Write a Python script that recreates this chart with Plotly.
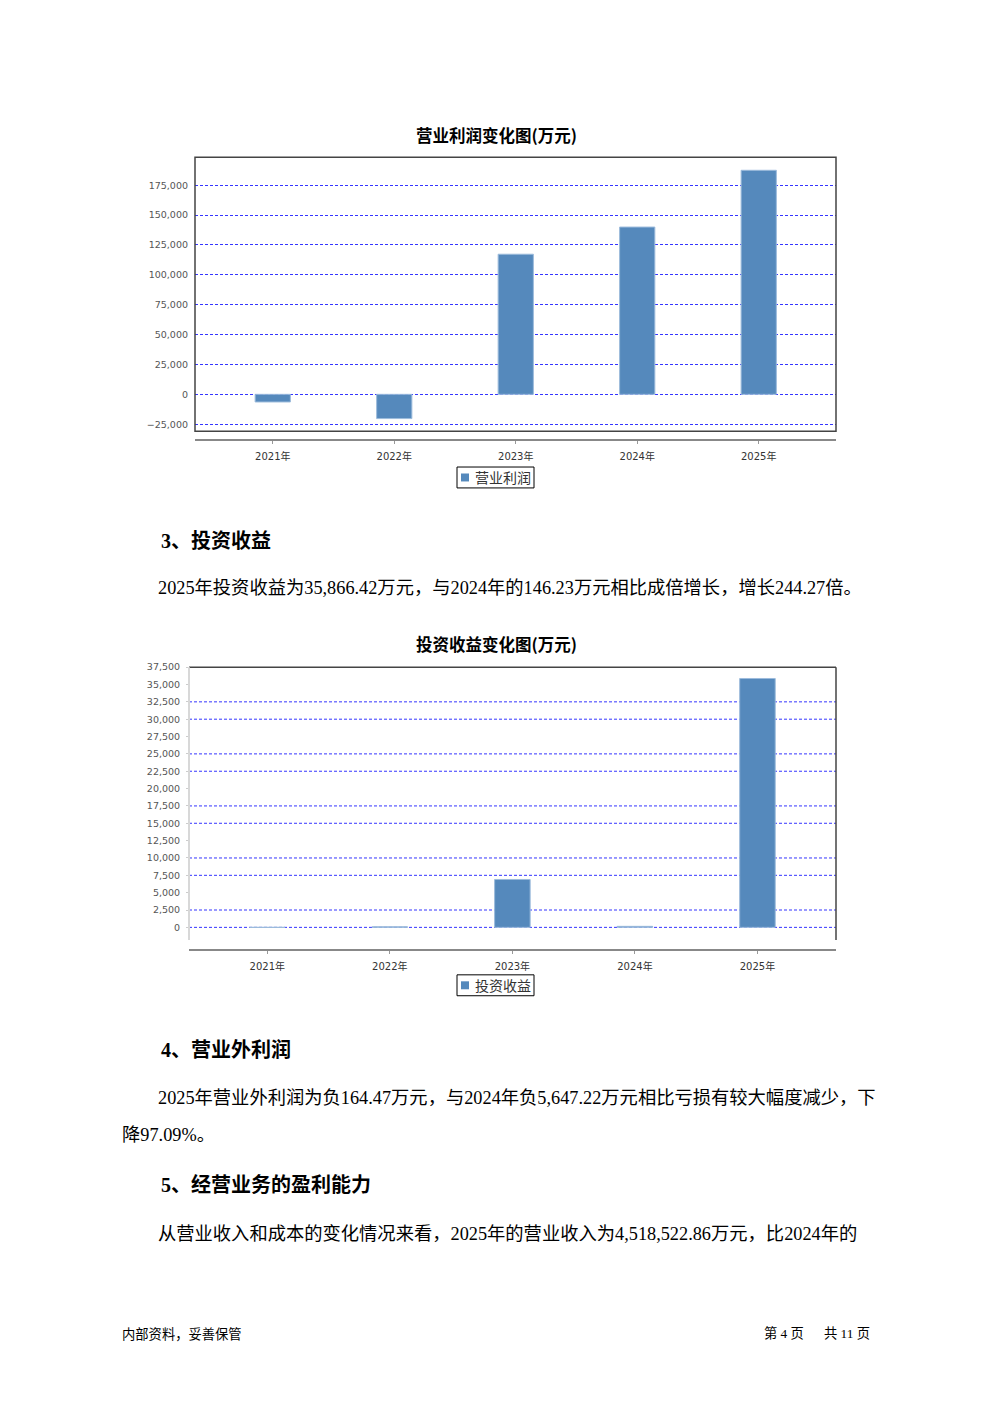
import plotly.graph_objects as go

# ---------------- data ----------------
years = ["2021年", "2022年", "2023年", "2024年", "2025年"]
op_profit = [-6400, -20300, 117250, 140000, 187500]          # 营业利润 (万元)
inv_income = [0, 80, 6900, 146.23, 35866.42]                  # 投资收益 (万元)
op_ticks = [-25000, 0, 25000, 50000, 75000, 100000, 125000, 150000, 175000]
inv_ticks = [0, 2500, 5000, 7500, 10000, 12500, 15000, 17500, 20000,
             22500, 25000, 27500, 30000, 32500, 35000, 37500]
inv_grid_visible = [0, 2500, 7500, 10000, 15000, 17500, 22500, 25000, 30000, 32500, 37500]

chart1_title = "营业利润变化图(万元)"
chart2_title = "投资收益变化图(万元)"
series1_name = "营业利润"
series2_name = "投资收益"

W, H = 992, 1403
BLUE = "#5589bc"
EDGE = "#9cbbdc"
GRID = "#3535ff"
CJK = "Noto Sans CJK SC"
BODY = "Liberation Serif, Noto Sans CJK SC"
TICKF = "DejaVu Sans, Noto Sans CJK SC"


def px_x(p):
    return p / W


def px_y(p):
    return 1 - p / H


fig = go.Figure()
fig.add_trace(go.Bar(
    x=years, y=op_profit, xaxis="x", yaxis="y", name=series1_name,
    marker=dict(color=BLUE, line=dict(color=EDGE, width=1)),
    width=0.29, showlegend=False, hoverinfo="skip"))
fig.add_trace(go.Bar(
    x=years, y=inv_income, xaxis="x2", yaxis="y2", name=series2_name,
    marker=dict(color=BLUE, line=dict(color=EDGE, width=1)),
    width=0.29, showlegend=False, hoverinfo="skip"))

tickfont_x = dict(family=TICKF, size=10, color="#333")
tickfont_y = dict(family=TICKF, size=9.5, color="#555")

shapes = []
# chart 1 frame
shapes.append(dict(type="rect", xref="x domain", yref="y domain", x0=0, x1=1, y0=0, y1=1,
                   line=dict(color="#444", width=1.5), layer="above"))
# chart 2 gridlines (only those visible in the picture)
for v in inv_grid_visible:
    shapes.append(dict(type="line", xref="x2 domain", yref="y2", x0=0, x1=1, y0=v, y1=v,
                       line=dict(color=GRID, width=1, dash="3px,2px"), layer="below"))
# chart 2 frame: dark top and right, light left
shapes.append(dict(type="line", xref="x2 domain", yref="y2 domain", x0=0, x1=1, y0=1, y1=1,
                   line=dict(color="#444", width=1.5), layer="above"))
shapes.append(dict(type="line", xref="x2 domain", yref="y2 domain", x0=1, x1=1, y0=0, y1=1,
                   line=dict(color="#444", width=1.5), layer="above"))
shapes.append(dict(type="line", xref="x2 domain", yref="y2 domain", x0=0, x1=0, y0=0, y1=1,
                   line=dict(color="#d8d8d8", width=2), layer="above"))

annotations = []


def text(x, y, s, size, bold=False, family=BODY, anchor="left", color="#000"):
    annotations.append(dict(
        x=px_x(x), y=px_y(y), xref="paper", yref="paper", text=("<b>%s</b>" % s) if bold else s,
        showarrow=False, xanchor=anchor, yanchor="middle",
        font=dict(family=family, size=size, color=color)))


def legend_box(x0, y0, x1, y1, label):
    shapes.append(dict(type="rect", xref="paper", yref="paper",
                       x0=px_x(x0), x1=px_x(x1), y0=px_y(y1), y1=px_y(y0),
                       line=dict(color="#000", width=1), fillcolor="#fff", layer="above"))
    cy = (y0 + y1) / 2
    shapes.append(dict(type="rect", xref="paper", yref="paper",
                       x0=px_x(x0 + 4), x1=px_x(x0 + 12), y0=px_y(cy + 4), y1=px_y(cy - 4),
                       line=dict(width=0), fillcolor=BLUE, layer="above"))
    text(x0 + 16, cy, label, 14, family=CJK, color="#333")


legend_box(457, 463, 534, 484, series1_name)
legend_box(457, 973, 534, 994, series2_name)

text(496, 130, chart1_title, 16.5, bold=True, family=CJK, anchor="center")
text(496, 641, chart2_title, 16.5, bold=True, family=CJK, anchor="center")
text(159, 537, "3、投资收益", 20, bold=True)
text(156, 585, "2025年投资收益为35,866.42万元，与2024年的146.23万元相比成倍增长，增长244.27倍。", 18.3)
text(159, 1048, "4、营业外利润", 20, bold=True)
text(156, 1097, "2025年营业外利润为负164.47万元，与2024年负5,647.22万元相比亏损有较大幅度减少，下", 18.3)
text(120, 1134, "降97.09%。", 18.3)
text(159, 1184, "5、经营业务的盈利能力", 20, bold=True)
text(156, 1233, "从营业收入和成本的变化情况来看，2025年的营业收入为4,518,522.86万元，比2024年的", 18.3)
text(120, 1333, "内部资料，妥善保管", 13.3, family=CJK)
text(806, 1333, "第 4 页", 13.3, family=BODY, anchor="right")
text(872, 1333, "共 11 页", 13.3, family=BODY, anchor="right")

fig.update_layout(
    width=W, height=H,
    margin=dict(l=0, r=0, t=0, b=0),
    paper_bgcolor="#fff", plot_bgcolor="#fff",
    barmode="group", showlegend=False,
    shapes=shapes, annotations=annotations,
    hovermode=False,
    xaxis=dict(domain=[px_x(195), px_x(836)], anchor="free", position=px_y(436),
               type="category", range=[-0.64, 4.636],
               showline=True, linecolor="#888", linewidth=1.5,
               ticks="outside", ticklen=3, tickcolor="#999", ticklabelstandoff=4,
               tickfont=tickfont_x, showgrid=False, zeroline=False),
    yaxis=dict(domain=[px_y(427), px_y(152)], anchor="x", range=[-30833, 198333],
               tickvals=op_ticks, tickformat=",", tickfont=tickfont_y,
               showgrid=True, gridcolor=GRID, gridwidth=1, griddash="3px,2px",
               zeroline=False, showline=False, ticks="", ticklabelstandoff=6),
    xaxis2=dict(domain=[px_x(189), px_x(836)], anchor="free", position=px_y(948),
                type="category", range=[-0.639, 4.641],
                showline=True, linecolor="#888", linewidth=1.5,
                ticks="outside", ticklen=3, tickcolor="#999", ticklabelstandoff=4,
                tickfont=tickfont_x, showgrid=False, zeroline=False),
    yaxis2=dict(domain=[px_y(938), px_y(664)], anchor="x2", range=[-1820, 37500],
                tickvals=inv_ticks, tickformat=",", tickfont=tickfont_y,
                showgrid=False, zeroline=False, showline=False,
                ticks="outside", ticklen=2, tickcolor="#ccc", ticklabelstandoff=4),
)

post = ("var gd=document.getElementById('{plot_id}');"
        "document.body.style.margin='0';"
        "document.documentElement.style.overflow='hidden';"
        "gd.style.position='fixed';gd.style.left='0px';gd.style.top='0px';")

fig.write_html("out.html", config={"displayModeBar": False}, post_script=post)
